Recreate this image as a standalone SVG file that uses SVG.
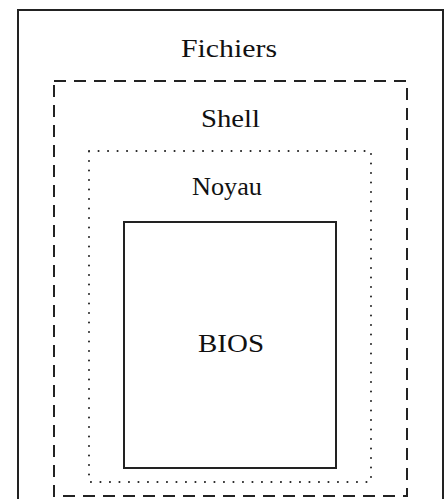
<svg xmlns="http://www.w3.org/2000/svg" width="448" height="499" viewBox="0 0 448 499">
<style>
  .lbl { font-family: "Liberation Serif", "DejaVu Serif", serif; font-size: 26px; fill: #111; text-anchor: middle; }
  .solid { fill: none; stroke: #222; stroke-width: 2; }
  .dashed { fill: none; stroke: #222; stroke-width: 2; stroke-dasharray: 12 8; }
  .dotted { fill: none; stroke: #222; stroke-width: 2; stroke-dasharray: 0.1 9.4; stroke-linecap: round; }
</style>
<rect width="448" height="499" fill="#fff"/>
<g id="fichiers">
  <rect class="solid" x="18" y="10" width="425" height="500"/>
  <text class="lbl" x="229" y="57" textLength="96" lengthAdjust="spacingAndGlyphs">Fichiers</text>
</g>
<g id="shell">
  <rect class="dashed" x="54" y="81" width="353" height="415"/>
  <text class="lbl" x="230.5" y="127" textLength="59" lengthAdjust="spacingAndGlyphs">Shell</text>
</g>
<g id="noyau">
  <rect class="dotted" x="89" y="151" width="282" height="331"/>
  <text class="lbl" x="227" y="195" textLength="70" lengthAdjust="spacingAndGlyphs">Noyau</text>
</g>
<g id="bios">
  <rect class="solid" x="124" y="222" width="212" height="246"/>
  <text class="lbl" x="231" y="352" textLength="66" lengthAdjust="spacingAndGlyphs">BIOS</text>
</g>
<g id="connectors"></g>
</svg>
